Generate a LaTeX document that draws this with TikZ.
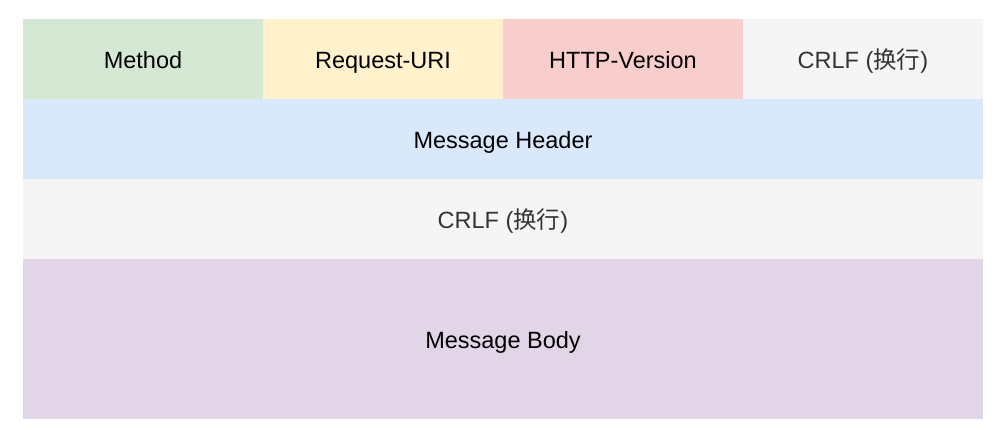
\documentclass[tikz,border=0pt]{standalone}
\usepackage{fontspec}
\setmainfont{Liberation Sans}
\newfontfamily\cjk{Noto Sans CJK SC}
\definecolor{cgreen}{HTML}{D5E8D4}
\definecolor{cyellow}{HTML}{FFF2CC}
\definecolor{cred}{HTML}{F8CECC}
\definecolor{cgray}{HTML}{F5F5F5}
\definecolor{cblue}{HTML}{DAE8FC}
\definecolor{cpurple}{HTML}{E1D5E7}
\definecolor{tgray}{HTML}{333333}
\tikzset{
  cell/.style={draw=none, inner sep=0pt, outer sep=0pt, anchor=north west,
    font=\fontsize{23.5}{28}\selectfont, text=black,
    text height=21pt, text depth=2.4pt},
  graycell/.style={cell, fill=cgray, text=tgray}
}
\begin{document}
\begin{tikzpicture}[x=1pt,y=-1pt]
\useasboundingbox (0,0) rectangle (1002,438);
\node[cell, fill=cgreen, minimum width=240pt, minimum height=80pt] (method) at (23,19) {Method};
\node[cell, fill=cyellow, minimum width=240pt, minimum height=80pt] (uri) at (263,19) {Request-URI};
\node[cell, fill=cred, minimum width=240pt, minimum height=80pt] (ver) at (503,19) {HTTP-Version};
\node[graycell, minimum width=240pt, minimum height=80pt] (crlf1) at (743,19) {CRLF ({\cjk 换行})};
\node[cell, fill=cblue, minimum width=960pt, minimum height=80pt] (header) at (23,99) {Message Header};
\node[graycell, minimum width=960pt, minimum height=80pt] (crlf2) at (23,179) {CRLF ({\cjk 换行})};
\node[cell, fill=cpurple, minimum width=960pt, minimum height=160pt] (body) at (23,259) {Message Body};
\end{tikzpicture}
\end{document}
